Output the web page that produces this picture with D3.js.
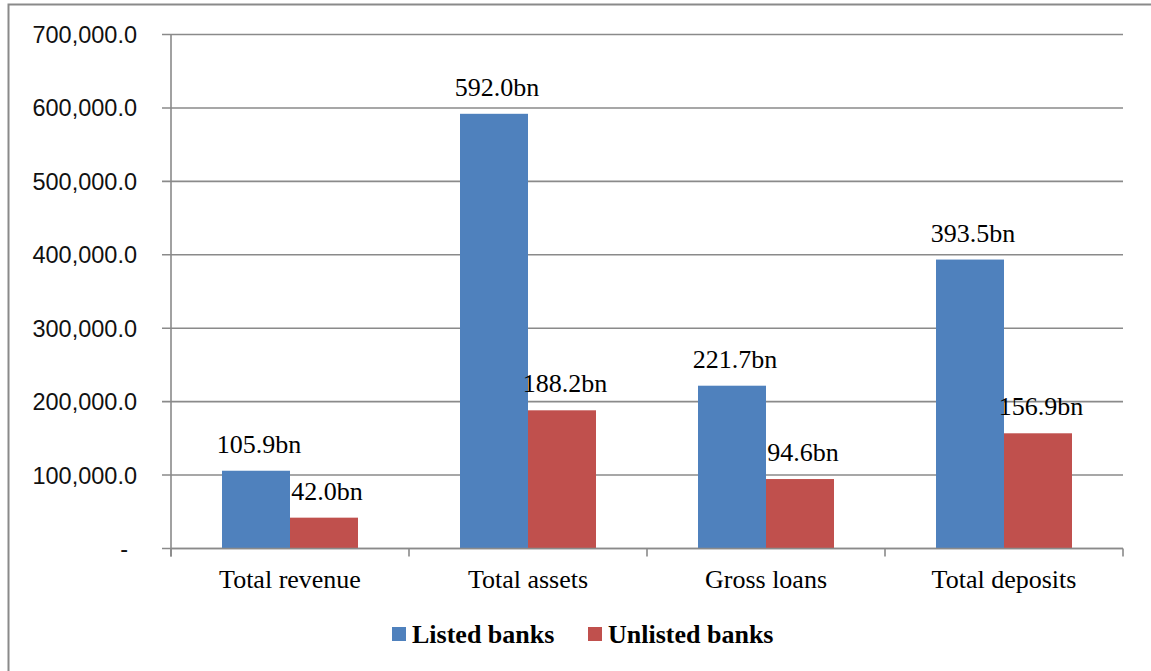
<!DOCTYPE html>
<html>
<head>
<meta charset="utf-8">
<script src="https://cdn.jsdelivr.net/npm/d3@7"></script>
<style>
  html, body { margin: 0; padding: 0; background: #ffffff; }
  svg { display: block; }
</style>
</head>
<body>
<svg id="chart" width="1151" height="671"></svg>
<script>
// Bank sector aggregates (values in millions)
const categories = ["Total revenue", "Total assets", "Gross loans", "Total deposits"];
const seriesNames = ["Listed banks", "Unlisted banks"];
const listedValues = [105900, 592000, 221700, 393500];
const unlistedValues = [42000, 188200, 94600, 156900];
const yTickValues = [0, 100000, 200000, 300000, 400000, 500000, 600000, 700000];
const seriesColors = ["#4F81BD", "#C0504D"];

const svg = d3.select("#chart");
const W = 1151, H = 671;
const plot = { left: 171, right: 1123, top: 34.5, bottom: 548.5 };
const gridColor = "#8a8a8a";

// outer frame
svg.append("rect")
  .attr("x", 8.5).attr("y", 4.5)
  .attr("width", W + 10).attr("height", H + 10)
  .attr("fill", "none").attr("stroke", gridColor).attr("stroke-width", 2);

const x = d3.scaleBand().domain(categories).range([plot.left, plot.right]).padding(0);
const xInner = d3.scaleBand().domain(seriesNames).range([0, x.bandwidth()])
  .paddingInner(0).paddingOuter(0.75);
const y = d3.scaleLinear().domain([0, 700000]).range([plot.bottom, plot.top]);

// horizontal gridlines with left tick stubs
svg.append("g").selectAll("line").data(yTickValues).join("line")
  .attr("x1", plot.left - 9).attr("x2", plot.right)
  .attr("y1", d => y(d)).attr("y2", d => y(d))
  .attr("stroke", gridColor).attr("stroke-width", 1.6);

// y axis line
svg.append("line")
  .attr("x1", plot.left).attr("x2", plot.left)
  .attr("y1", plot.top).attr("y2", plot.bottom + 8)
  .attr("stroke", gridColor).attr("stroke-width", 1.6);

// y tick labels
const fmt = d3.format(",.1f");
svg.append("g").selectAll("text").data(yTickValues).join("text")
  .attr("x", d => d === 0 ? 128 : 137)
  .attr("y", d => y(d) + 8.5)
  .attr("text-anchor", "end")
  .attr("font-family", "'Liberation Sans', Arial, sans-serif")
  .attr("font-size", 23.5)
  .attr("fill", "#111")
  .text(d => d === 0 ? "-" : fmt(d));

// category boundary ticks below the axis
const boundaries = categories.map(c => x(c)).concat([plot.right]);
svg.append("g").selectAll("line").data(boundaries).join("line")
  .attr("x1", d => d).attr("x2", d => d)
  .attr("y1", plot.bottom).attr("y2", plot.bottom + 8)
  .attr("stroke", gridColor).attr("stroke-width", 1.6);

// bars
const rows = categories.map((c, i) => ({
  category: c,
  values: [
    { series: seriesNames[0], value: listedValues[i], color: seriesColors[0] },
    { series: seriesNames[1], value: unlistedValues[i], color: seriesColors[1] }
  ]
}));

const groups = svg.append("g").selectAll("g").data(rows).join("g")
  .attr("transform", d => `translate(${x(d.category)},0)`);

groups.selectAll("rect").data(d => d.values).join("rect")
  .attr("x", d => xInner(d.series))
  .attr("y", d => y(d.value))
  .attr("width", xInner.bandwidth())
  .attr("height", d => y(0) - y(d.value))
  .attr("fill", d => d.color);

// value labels
groups.selectAll("text").data(d => d.values).join("text")
  .attr("x", d => xInner(d.series) + xInner.bandwidth() / 2 + 3)
  .attr("y", d => y(d.value) - 18)
  .attr("text-anchor", "middle")
  .attr("font-family", "'Liberation Serif', 'Times New Roman', serif")
  .attr("font-size", 26)
  .attr("fill", "#000")
  .text(d => (d.value / 1000).toFixed(1) + "bn");

// bottom axis line
svg.append("line")
  .attr("x1", plot.left).attr("x2", plot.right)
  .attr("y1", plot.bottom).attr("y2", plot.bottom)
  .attr("stroke", gridColor).attr("stroke-width", 1.6);

// category labels
svg.append("g").selectAll("text").data(categories).join("text")
  .attr("x", d => x(d) + x.bandwidth() / 2)
  .attr("y", 588)
  .attr("text-anchor", "middle")
  .attr("font-family", "'Liberation Serif', 'Times New Roman', serif")
  .attr("font-size", 26)
  .attr("fill", "#000")
  .text(d => d);

// legend
const legendItems = [
  { name: seriesNames[0], color: seriesColors[0], x: 392 },
  { name: seriesNames[1], color: seriesColors[1], x: 588 }
];
const legend = svg.append("g").selectAll("g").data(legendItems).join("g")
  .attr("transform", d => `translate(${d.x},627)`);
legend.append("rect")
  .attr("width", 14).attr("height", 14)
  .attr("fill", d => d.color);
legend.append("text")
  .attr("x", 20).attr("y", 16)
  .attr("font-family", "'Liberation Serif', 'Times New Roman', serif")
  .attr("font-weight", "bold")
  .attr("font-size", 26)
  .attr("fill", "#000")
  .text(d => d.name);
</script>
</body>
</html>
